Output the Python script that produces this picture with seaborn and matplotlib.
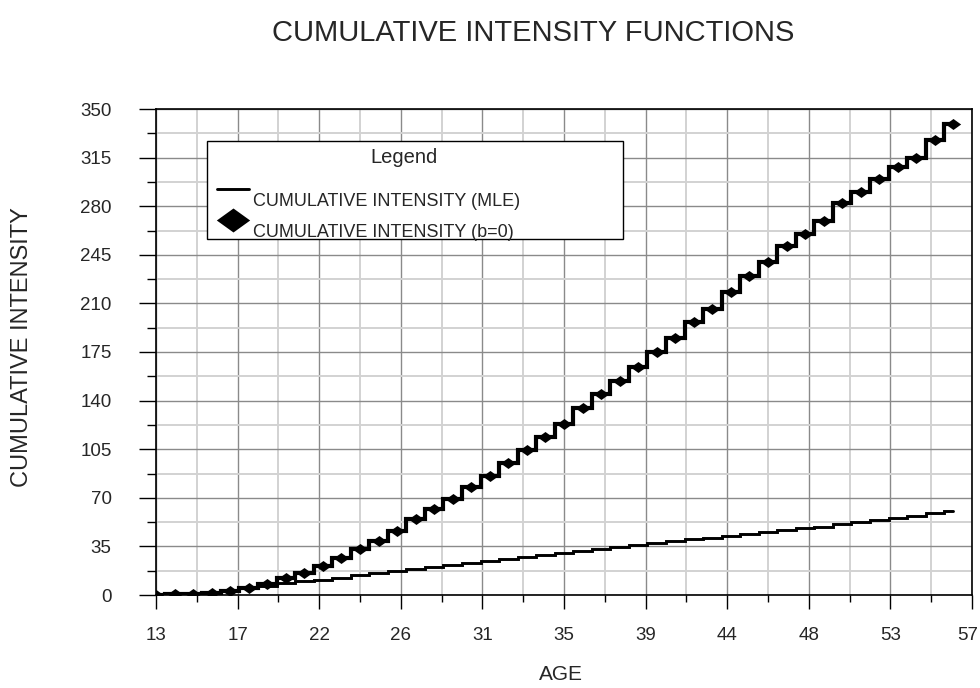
import matplotlib
matplotlib.use("Agg")
import matplotlib.pyplot as plt
import numpy as np
import pandas as pd
import seaborn as sns
from matplotlib.path import Path
from matplotlib.lines import Line2D
from matplotlib.patches import Rectangle
from matplotlib.ticker import FixedLocator
from matplotlib.transforms import ScaledTranslation

# ---------------- data ----------------
ages = list(range(13, 57))
cum_b0 = [0.0, 0.7, 0.5, 1.7, 3.2, 5.4, 8.1, 12.2, 16.2, 21.1,
          26.4, 33.0, 39.0, 46.3, 54.5, 62.1, 69.0, 77.8, 85.8, 95.3,
          104.1, 114.0, 123.1, 134.7, 144.8, 154.3, 164.4, 174.8, 184.9, 196.8,
          205.8, 218.0, 229.7, 239.8, 251.5, 260.2, 269.3, 282.3, 290.2, 299.6,
          307.9, 314.7, 327.7, 339.0]
cum_mle = [0.0, 0.7, 1.4, 2.2, 3.4, 4.8, 6.5, 8.4, 9.8, 11.0,
           12.6, 14.2, 15.8, 17.3, 18.8, 20.3, 21.8, 23.2, 24.6, 26.0,
           27.4, 28.8, 30.2, 31.6, 33.0, 34.4, 35.8, 37.2, 38.6, 40.0,
           41.4, 42.6, 43.9, 45.2, 46.6, 47.9, 49.3, 51.0, 52.5, 54.0,
           55.6, 57.2, 58.7, 60.3]
x_ticks = [13, 17.4, 21.8, 26.2, 30.6, 35, 39.4, 43.8, 48.2, 52.6, 57]
x_tick_labels = ["13", "17", "22", "26", "31", "35", "39", "44", "48", "53", "57"]
y_ticks = [0, 35, 70, 105, 140, 175, 210, 245, 280, 315, 350]
series_names = ["CUMULATIVE INTENSITY (MLE)", "CUMULATIVE INTENSITY (b=0)"]

df = pd.DataFrame({"AGE": ages, "MLE": cum_mle, "B0": cum_b0})

# ---------------- style ----------------
sns.set_style("white")
plt.rcParams["font.family"] = ["Liberation Sans", "DejaVu Sans"]

W, H = 980, 688
fig = plt.figure(figsize=(W / 100, H / 100), dpi=100)
AX_L, AX_R, AX_T, AX_B = 156, 972, 109, 595
ax = fig.add_axes([AX_L / W, 1 - AX_B / H, (AX_R - AX_L) / W, (AX_B - AX_T) / H])


def fx(px):
    return (px - AX_L) / (AX_R - AX_L)


def fy(py):
    return (AX_B - py) / (AX_B - AX_T)


diamond = Path([(-1, 0), (0, 0.72), (1, 0), (0, -0.72), (-1, 0)],
               [Path.MOVETO, Path.LINETO, Path.LINETO, Path.LINETO, Path.CLOSEPOLY])

sns.lineplot(data=df, x="AGE", y="MLE", ax=ax, color="black", lw=2.1,
             drawstyle="steps-mid", zorder=3, solid_joinstyle="miter")
sns.lineplot(data=df, x="AGE", y="B0", ax=ax, color="black", lw=3.0,
             drawstyle="steps-mid", marker=diamond, markersize=11,
             markeredgewidth=0, zorder=4, solid_joinstyle="miter")

ax.set_xlim(13, 57)
ax.set_ylim(0, 350)
ax.set_xticks(x_ticks)
ax.set_xticklabels(x_tick_labels)
ax.set_yticks(y_ticks)
ax.xaxis.set_minor_locator(FixedLocator([(a + b) / 2 for a, b in zip(x_ticks[:-1], x_ticks[1:])]))
ax.yaxis.set_minor_locator(FixedLocator([(a + b) / 2 for a, b in zip(y_ticks[:-1], y_ticks[1:])]))

ax.set_axisbelow(True)
ax.grid(which="major", color="#8a8a8a", lw=1.0)
ax.grid(which="minor", color="#d2d2d2", lw=1.4)

ax.tick_params(axis="x", which="major", length=10, width=1, direction="out",
               pad=13, labelsize=13.5, bottom=True, color="black")
ax.tick_params(axis="x", which="minor", length=5, width=1, direction="out",
               bottom=True, color="black")
ax.tick_params(axis="y", which="major", length=12, width=1, direction="out",
               pad=20, labelsize=13.5, left=True, color="black")
ax.tick_params(axis="y", which="minor", length=6.5, width=1, direction="out",
               left=True, color="black")

# keep the last x label inside the picture, as in the reference
last = ax.xaxis.get_major_ticks()[-1].label1
last.set_transform(last.get_transform() + ScaledTranslation(-4 / 100, 0, fig.dpi_scale_trans))

for s in ax.spines.values():
    s.set_color("black")
    s.set_linewidth(1.2)

ax.set_xlabel("")
ax.set_ylabel("")
fig.text(561 / W, 1 - 675 / H, "AGE", ha="center", va="center", fontsize=15)
fig.text(22 / W, 1 - 347 / H, "CUMULATIVE INTENSITY", ha="center", va="center",
         rotation=90, fontsize=17)
fig.text(533 / W, 1 - 33 / H, "CUMULATIVE INTENSITY FUNCTIONS", ha="center",
         va="center", fontsize=21)

# ---------------- legend box ----------------
box_l, box_r, box_t, box_b = 206.7, 623, 140.7, 239.3
ax.add_patch(Rectangle((fx(box_l), fy(box_b)), fx(box_r) - fx(box_l), fy(box_t) - fy(box_b),
                       transform=ax.transAxes, facecolor="white", edgecolor="black",
                       lw=1.0, zorder=10, clip_on=False))
ax.text(fx(403.7), fy(163.3), "Legend", transform=ax.transAxes, ha="center",
        va="baseline", fontsize=14.5, zorder=11)
ax.add_line(Line2D([fx(217), fx(249)], [fy(189), fy(189)], transform=ax.transAxes,
                   color="black", lw=2.1, zorder=11))
ax.add_line(Line2D([fx(233)], [fy(220)], transform=ax.transAxes, color="black", lw=0,
                   marker=diamond, markersize=24, markeredgewidth=0, zorder=11))
ax.text(fx(253.3), fy(206), series_names[0], transform=ax.transAxes, ha="left",
        va="baseline", fontsize=13, zorder=11)
ax.text(fx(253.3), fy(237.3), series_names[1], transform=ax.transAxes, ha="left",
        va="baseline", fontsize=13, zorder=11)

fig.savefig("out.png", dpi=100)
